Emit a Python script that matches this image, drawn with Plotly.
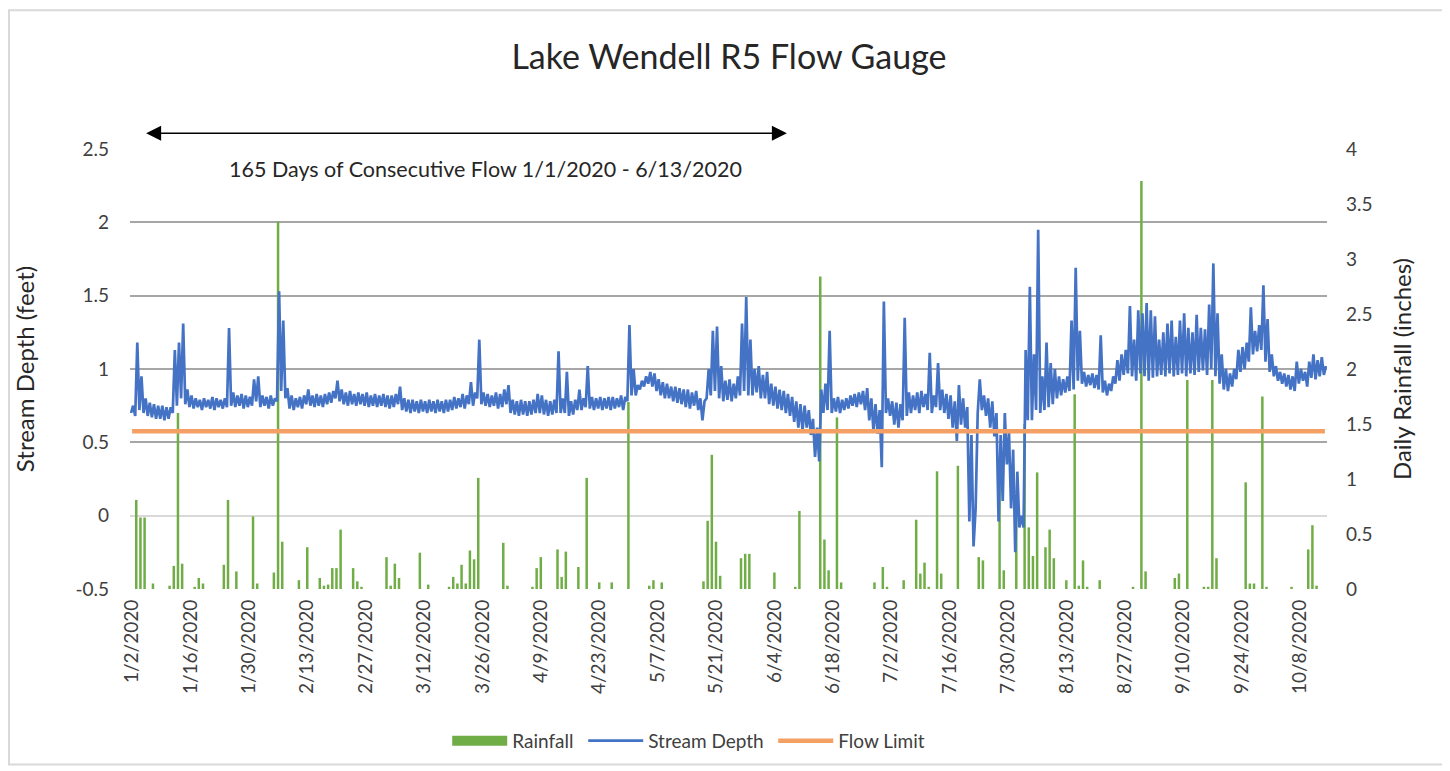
import pandas as pd
import plotly.graph_objects as go

# daily rainfall (inches), only days with rain
rain_dates = [
    "2020-01-03", "2020-01-04", "2020-01-05", "2020-01-07", "2020-01-11", "2020-01-12",
    "2020-01-13", "2020-01-14", "2020-01-17", "2020-01-18", "2020-01-19", "2020-01-24",
    "2020-01-25", "2020-01-27", "2020-01-31", "2020-02-01", "2020-02-05", "2020-02-06",
    "2020-02-07", "2020-02-11", "2020-02-13", "2020-02-16", "2020-02-17", "2020-02-18",
    "2020-02-19", "2020-02-20", "2020-02-21", "2020-02-24", "2020-02-25", "2020-02-26",
    "2020-03-03", "2020-03-04", "2020-03-05", "2020-03-06", "2020-03-11", "2020-03-13",
    "2020-03-18", "2020-03-19", "2020-03-20", "2020-03-21", "2020-03-22", "2020-03-23",
    "2020-03-24", "2020-03-25", "2020-03-31", "2020-04-01", "2020-04-07", "2020-04-08",
    "2020-04-09", "2020-04-13", "2020-04-14", "2020-04-15", "2020-04-18", "2020-04-20",
    "2020-04-23", "2020-04-26", "2020-04-30", "2020-05-05", "2020-05-06", "2020-05-08",
    "2020-05-18", "2020-05-19", "2020-05-20", "2020-05-21", "2020-05-22", "2020-05-27",
    "2020-05-28", "2020-05-29", "2020-06-04", "2020-06-09", "2020-06-10", "2020-06-15",
    "2020-06-16", "2020-06-17", "2020-06-19", "2020-06-20", "2020-06-28", "2020-06-30",
    "2020-07-01", "2020-07-05", "2020-07-08", "2020-07-09", "2020-07-10", "2020-07-11",
    "2020-07-13", "2020-07-14", "2020-07-18", "2020-07-23", "2020-07-24", "2020-07-28",
    "2020-07-29", "2020-08-01", "2020-08-03", "2020-08-04", "2020-08-05", "2020-08-06",
    "2020-08-08", "2020-08-09", "2020-08-10", "2020-08-13", "2020-08-15", "2020-08-16",
    "2020-08-17", "2020-08-18", "2020-08-21", "2020-08-29", "2020-08-31", "2020-09-01",
    "2020-09-08", "2020-09-09", "2020-09-11", "2020-09-15", "2020-09-16", "2020-09-17",
    "2020-09-18", "2020-09-25", "2020-09-26", "2020-09-27", "2020-09-29", "2020-09-30",
    "2020-10-06", "2020-10-10", "2020-10-11", "2020-10-12",
]
rain_in = [
    0.81, 0.65, 0.65, 0.05, 0.03, 0.21,
    1.60, 0.23, 0.02, 0.10, 0.05, 0.22,
    0.81, 0.16, 0.66, 0.05, 0.15, 3.34,
    0.43, 0.08, 0.38, 0.10, 0.03, 0.04,
    0.19, 0.19, 0.54, 0.19, 0.07, 0.02,
    0.29, 0.03, 0.23, 0.10, 0.33, 0.04,
    0.02, 0.11, 0.05, 0.22, 0.05, 0.35,
    0.27, 1.01, 0.42, 0.03, 0.02, 0.19,
    0.29, 0.36, 0.11, 0.34, 0.20, 1.01,
    0.06, 0.06, 1.70, 0.03, 0.08, 0.06,
    0.07, 0.62, 1.22, 0.43, 0.12, 0.28,
    0.32, 0.32, 0.15, 0.02, 0.71, 2.84,
    0.45, 0.17, 1.56, 0.06, 0.06, 0.20,
    0.02, 0.08, 0.63, 0.14, 0.24, 0.02,
    1.07, 0.14, 1.12, 0.29, 0.26, 1.15,
    0.17, 0.77, 1.50, 0.56, 0.30, 1.06,
    0.38, 0.54, 0.28, 0.08, 1.77, 0.03,
    0.26, 0.02, 0.08, 0.02, 3.71, 0.16,
    0.10, 0.14, 1.90, 0.02, 0.02, 1.90,
    0.28, 0.97, 0.05, 0.05, 1.75, 0.02,
    0.02, 0.36, 0.58, 0.03,
]

# stream depth (feet): daily low / high readings, 1/2/2020 - 10/14/2020
first_day = "2020-01-02"
depth_low = [
    0.70, 0.68, 0.72, 0.70, 0.68, 0.67, 0.66, 0.66, 0.65, 0.66, 0.70, 0.75, 0.80, 0.76,
    0.74, 0.73, 0.74, 0.72, 0.74, 0.73, 0.72, 0.74, 0.73, 0.74, 0.75, 0.74, 0.75, 0.73,
    0.74, 0.75, 0.78, 0.74, 0.75, 0.73, 0.75, 0.78, 0.85, 0.80, 0.73, 0.72, 0.74, 0.73,
    0.76, 0.75, 0.74, 0.75, 0.74, 0.76, 0.77, 0.80, 0.78, 0.76, 0.75, 0.76, 0.75, 0.76,
    0.75, 0.74, 0.75, 0.74, 0.75, 0.74, 0.73, 0.74, 0.76, 0.72, 0.71, 0.70, 0.71, 0.70,
    0.71, 0.70, 0.71, 0.70, 0.71, 0.70, 0.71, 0.72, 0.73, 0.74, 0.73, 0.76, 0.75, 0.80,
    0.76, 0.75, 0.74, 0.75, 0.73, 0.74, 0.76, 0.70, 0.69, 0.68, 0.69, 0.68, 0.69, 0.70,
    0.70, 0.69, 0.68, 0.69, 0.70, 0.70, 0.70, 0.68, 0.69, 0.72, 0.72, 0.74, 0.73, 0.72,
    0.73, 0.72, 0.73, 0.72, 0.73, 0.74, 0.72, 0.78, 0.82, 0.82, 0.86, 0.88, 0.90, 0.88,
    0.85, 0.82, 0.80, 0.80, 0.78, 0.77, 0.76, 0.74, 0.73, 0.75, 0.72, 0.65, 0.80, 0.82,
    0.85, 0.80, 0.78, 0.79, 0.78, 0.80, 0.82, 0.85, 0.82, 0.82, 0.84, 0.80, 0.80, 0.76,
    0.75, 0.73, 0.72, 0.70, 0.68, 0.64, 0.60, 0.58, 0.60, 0.55, 0.40, 0.37, 0.70, 0.72,
    0.70, 0.71, 0.70, 0.72, 0.73, 0.75, 0.74, 0.76, 0.72, 0.65, 0.58, 0.56, 0.33, 0.70,
    0.68, 0.62, 0.60, 0.65, 0.68, 0.70, 0.72, 0.70, 0.74, 0.72, 0.70, 0.74, 0.72, 0.70,
    0.66, 0.60, 0.51, 0.62, 0.60, -0.04, -0.21, 0.70, 0.72, 0.68, 0.60, 0.54, -0.04, 0.10,
    0.35, 0.05, -0.25, -0.08, -0.08, 0.65, 0.65, 0.72, 0.70, 0.72, 0.74, 0.76, 0.80, 0.82,
    0.84, 0.85, 0.86, 0.92, 0.90, 0.88, 0.89, 0.87, 0.86, 0.84, 0.82, 0.85, 0.90, 0.92,
    0.96, 0.97, 0.95, 0.92, 0.97, 0.95, 0.92, 0.94, 0.95, 0.96, 0.95, 0.97, 0.95, 0.96,
    0.97, 0.95, 0.97, 0.96, 0.98, 0.99, 0.96, 1.00, 0.95, 0.90, 0.86, 0.85, 0.88, 0.93,
    0.98, 1.00, 1.05, 1.10, 1.12, 1.13, 1.05, 0.98, 0.95, 0.92, 0.90, 0.88, 0.86, 0.85,
    0.90, 0.92, 0.88, 0.94, 0.93, 0.95, 0.96,
]
depth_high = [
    0.75, 1.18, 0.95, 0.80, 0.77, 0.76, 0.75, 0.75, 0.74, 0.74, 1.13, 1.18, 1.31, 0.86,
    0.82, 0.80, 0.79, 0.80, 0.79, 0.81, 0.80, 0.79, 0.80, 1.28, 0.84, 0.82, 0.83, 0.82,
    0.81, 0.93, 0.95, 0.82, 0.81, 0.82, 0.80, 1.53, 1.33, 0.87, 0.82, 0.80, 0.81, 0.82,
    0.86, 0.82, 0.83, 0.82, 0.83, 0.84, 0.85, 0.92, 0.86, 0.84, 0.85, 0.83, 0.84, 0.83,
    0.84, 0.82, 0.83, 0.82, 0.83, 0.82, 0.82, 0.83, 0.88, 0.80, 0.79, 0.79, 0.78, 0.79,
    0.78, 0.79, 0.78, 0.79, 0.78, 0.79, 0.79, 0.81, 0.80, 0.83, 0.82, 0.91, 0.84, 1.20,
    0.84, 0.83, 0.82, 0.84, 0.83, 0.86, 0.89, 0.79, 0.78, 0.79, 0.78, 0.78, 0.79, 0.83,
    0.82, 0.79, 0.78, 0.79, 1.12, 0.80, 0.98, 0.78, 0.79, 0.86, 0.80, 1.02, 0.81, 0.80,
    0.81, 0.80, 0.81, 0.81, 0.80, 0.82, 0.81, 1.30, 1.00, 0.89, 0.92, 0.95, 0.98, 0.97,
    0.93, 0.91, 0.90, 0.88, 0.88, 0.87, 0.86, 0.86, 0.84, 0.85, 0.80, 0.78, 1.00, 1.26,
    1.29, 1.02, 0.92, 0.93, 0.90, 0.95, 1.31, 1.49, 1.20, 1.00, 1.02, 0.96, 0.98, 0.90,
    0.88, 0.86, 0.85, 0.83, 0.81, 0.78, 0.76, 0.75, 0.72, 0.66, 0.60, 0.86, 0.90, 1.26,
    0.80, 0.81, 0.79, 0.80, 0.82, 0.83, 0.84, 0.85, 0.87, 0.80, 0.76, 0.72, 1.46, 0.80,
    0.78, 0.77, 0.76, 1.35, 0.84, 0.82, 0.84, 0.85, 0.83, 1.11, 0.82, 1.04, 0.86, 0.83,
    0.82, 0.78, 0.89, 0.80, 0.74, 0.55, 0.05, 0.93, 0.82, 0.80, 0.78, 0.70, 0.55, 0.70,
    0.57, 0.45, 0.30, 0.00, 1.13, 1.56, 1.10, 1.95, 0.95, 1.18, 1.04, 1.00, 0.95, 0.93,
    0.95, 1.33, 1.69, 1.26, 0.98, 0.96, 0.97, 0.96, 1.23, 0.92, 0.90, 0.95, 1.06, 1.10,
    1.13, 1.43, 1.20, 1.40, 1.38, 1.45, 1.40, 1.36, 1.20, 1.25, 1.31, 1.33, 1.22, 1.33,
    1.38, 1.28, 1.25, 1.37, 1.28, 1.27, 1.44, 1.72, 1.38, 1.10, 1.00, 0.97, 1.00, 1.13,
    1.15, 1.18, 1.42, 1.26, 1.30, 1.57, 1.34, 1.10, 1.02, 0.98, 0.97, 0.96, 0.95, 1.05,
    1.00, 0.98, 1.05, 1.10, 1.06, 1.08, 1.02,
]
flow_limit = 0.575

depth_ticks = [-0.5, 0, 0.5, 1, 1.5, 2, 2.5]
title = "Lake Wendell R5 Flow Gauge"
note = "165 Days of Consecutive Flow 1/1/2020 - 6/13/2020"
arrow_from, arrow_to = "2020-01-05", "2020-06-07"

FONT = "Lato"
GRID = "#A6A6A6"
TXT = "#404040"
GREEN = "#70AD47"

days = pd.date_range(first_day, periods=len(depth_low), freq="D")
# two readings a day -> the comb look of the gauge trace
depth_x, depth_y = [], []
for d, lo, hi in zip(days, depth_low, depth_high):
    depth_x += [d - pd.Timedelta(hours=6), d + pd.Timedelta(hours=6)]
    depth_y += [lo, hi]

tick_days = pd.date_range(first_day, days[-1], freq="14D")
tick_text = [f"{d.month}/{d.day}/{d.year}" for d in tick_days]

fig = go.Figure()
# legend-only entry so the swatch is a wide block like Excel's
fig.add_trace(go.Scatter(
    x=[None], y=[None], name="Rainfall", mode="lines", legendwidth=66,
    line=dict(color=GREEN, width=14), yaxis="y",
))
fig.add_trace(go.Bar(
    x=pd.to_datetime(rain_dates), y=rain_in, name="Rainfall", showlegend=False,
    marker=dict(color=GREEN, line_width=0), width=0.6 * 86400000,
    yaxis="y",
))
fig.add_trace(go.Scatter(
    x=depth_x, y=depth_y, name="Stream Depth", mode="lines", legendwidth=120,
    line=dict(color="#4472C4", width=2.7), yaxis="y2",
))
fig.add_trace(go.Scatter(
    x=days, y=[flow_limit] * len(days), name="Flow Limit", mode="lines", legendwidth=90,
    line=dict(color="#F4A064", width=4.5), yaxis="y2",
))

# double-headed arrow + label
fig.add_annotation(
    x=arrow_to, y=1.036, xref="x", yref="paper",
    ax=arrow_from, ay=0, axref="x", ayref="pixel", text="",
    showarrow=True, arrowhead=2, arrowside="end+start",
    arrowsize=2, arrowwidth=1.5, arrowcolor="#000000",
)
fig.add_annotation(
    x=0.2966, y=2.364, xref="paper", yref="y2", xanchor="center", yanchor="middle",
    text=note, showarrow=False,
    font=dict(family=FONT, size=21.5, color="#262626"),
)

fig.add_shape(
    type="rect", xref="paper", yref="paper",
    x0=-0.1011, x1=1.0994, y0=-0.399, y1=1.3152,
    line=dict(color="#D9D9D9", width=2), layer="below",
)

# page body adds an 8px offset, so the figure is 8px smaller than the window
fig.update_layout(
    width=1442, height=763,
    paper_bgcolor="white", plot_bgcolor="white",
    font=dict(family=FONT, color=TXT, size=19),
    title=dict(text=title, x=0.5, xanchor="center", y=0.935, yanchor="middle",
               font=dict(family=FONT, size=34, color="#262626")),
    margin=dict(l=122, r=123, t=141, b=181),
    showlegend=True,
    legend=dict(orientation="h", x=0.265, xanchor="left", y=-0.342, yanchor="middle",
                font=dict(size=19, color=TXT), itemwidth=55, traceorder="normal"),
    xaxis=dict(
        type="date", range=["2020-01-01 12:00", "2020-10-14 12:00"],
        tickvals=tick_days, ticktext=tick_text, tickangle=-90,
        showgrid=False, zeroline=False, showline=False, ticks="",
        ticklabelstandoff=6,
        tickfont=dict(size=19, color=TXT),
    ),
    yaxis=dict(
        range=[0, 4], dtick=0.5, side="right", showgrid=False, zeroline=False,
        ticks="", ticklabelstandoff=18, tickformat="~g",
        title=dict(text="Daily Rainfall (inches)", font=dict(size=24, color="#262626"),
                   standoff=22),
        tickfont=dict(size=19, color=TXT),
    ),
    yaxis2=dict(
        range=[-0.5, 2.5], side="left", overlaying="y",
        tickvals=depth_ticks, ticktext=[f"{v:g}" for v in depth_ticks],
        showgrid=True, gridcolor=GRID, gridwidth=2,
        zeroline=True, zerolinecolor="#D9D9D9", zerolinewidth=2,
        ticks="", ticklabelstandoff=20,
        title=dict(text="Stream Depth (feet)", font=dict(size=24, color="#262626"),
                   standoff=34),
        tickfont=dict(size=19, color=TXT),
    ),
)

fig.write_html("out.html")
